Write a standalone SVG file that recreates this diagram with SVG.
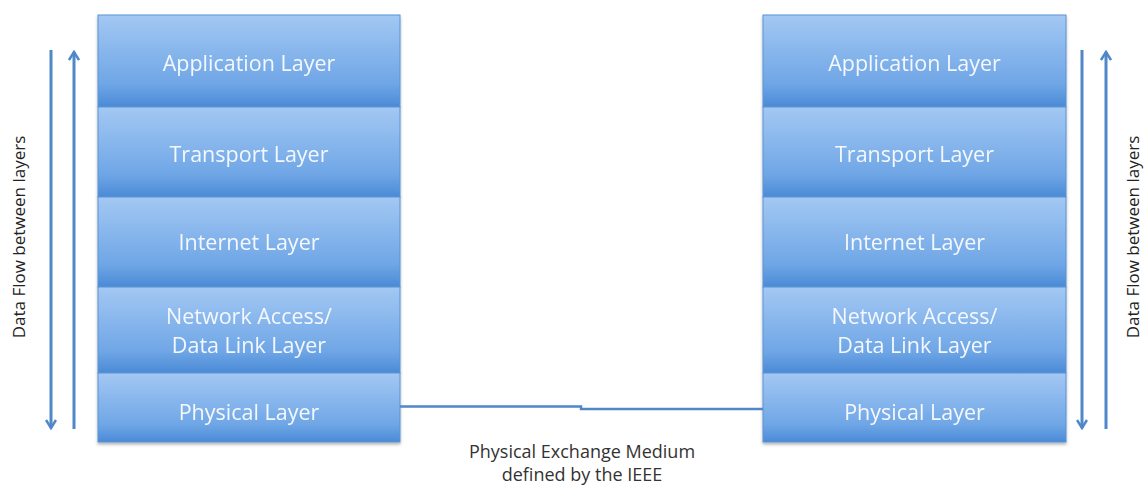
<svg xmlns="http://www.w3.org/2000/svg" width="1144" height="485" viewBox="0 0 1144 485">
<defs>
<linearGradient id="g" x1="0" y1="0" x2="0" y2="1">
<stop offset="0" stop-color="#a3c8f3"/>
<stop offset="0.75" stop-color="#6fa6e6"/>
<stop offset="1" stop-color="#4a8ad6"/>
</linearGradient>
<filter id="sh" x="-5%" y="-5%" width="110%" height="110%">
<feDropShadow dx="0" dy="2" stdDeviation="1.5" flood-color="#000" flood-opacity="0.3"/>
</filter>
<marker id="ah" viewBox="0 0 12 12" refX="10" refY="6" markerWidth="12" markerHeight="12" markerUnits="userSpaceOnUse" orient="auto">
<polyline points="2,1 10,6 2,11" fill="none" stroke="#4f87c8" stroke-width="2.5"/>
</marker>
</defs>
<style>
.layer{fill:url(#g);stroke:#5b93d3;stroke-width:1}
.lt{font-family:"Open Sans","Liberation Sans",sans-serif;font-size:21.5px;fill:#f4f8fd;text-anchor:middle}
.side{font-family:"Open Sans","Liberation Sans",sans-serif;font-size:17px;fill:#222;text-anchor:middle}
.cap{font-family:"Open Sans","Liberation Sans",sans-serif;font-size:18px;fill:#333;text-anchor:middle}
.arr{stroke:#4f87c8;stroke-width:3;fill:none}
.con{stroke:#4f87c8;stroke-width:2.5;fill:none}
</style>
<rect width="1144" height="485" fill="#fff"/>
<g id="left-stack" filter="url(#sh)">
<g id="l-app"><rect class="layer" x="98" y="15" width="302" height="92"/><text class="lt" x="249" y="71">Application Layer</text></g>
<g id="l-transport"><rect class="layer" x="98" y="107" width="302" height="90"/><text class="lt" x="249" y="162">Transport Layer</text></g>
<g id="l-internet"><rect class="layer" x="98" y="197" width="302" height="90"/><text class="lt" x="249" y="250">Internet Layer</text></g>
<g id="l-netaccess"><rect class="layer" x="98" y="287" width="302" height="86"/><text class="lt" x="249" y="324">Network Access/</text><text class="lt" x="249" y="353">Data Link Layer</text></g>
<g id="l-physical"><rect class="layer" x="98" y="373" width="302" height="69"/><text class="lt" x="249" y="420">Physical Layer</text></g>
</g>
<g id="right-stack" filter="url(#sh)">
<g id="r-app"><rect class="layer" x="763" y="15" width="303" height="92"/><text class="lt" x="914.5" y="71">Application Layer</text></g>
<g id="r-transport"><rect class="layer" x="763" y="107" width="303" height="90"/><text class="lt" x="914.5" y="162">Transport Layer</text></g>
<g id="r-internet"><rect class="layer" x="763" y="197" width="303" height="90"/><text class="lt" x="914.5" y="250">Internet Layer</text></g>
<g id="r-netaccess"><rect class="layer" x="763" y="287" width="303" height="86"/><text class="lt" x="914.5" y="324">Network Access/</text><text class="lt" x="914.5" y="353">Data Link Layer</text></g>
<g id="r-physical"><rect class="layer" x="763" y="373" width="303" height="69"/><text class="lt" x="914.5" y="420">Physical Layer</text></g>
</g>
<g id="connectors">
<line class="arr" x1="51" y1="50" x2="51" y2="428" marker-end="url(#ah)"/>
<line class="arr" x1="74" y1="429" x2="74" y2="52" marker-end="url(#ah)"/>
<line class="arr" x1="1082" y1="50" x2="1082" y2="428" marker-end="url(#ah)"/>
<line class="arr" x1="1106" y1="429" x2="1106" y2="52" marker-end="url(#ah)"/>
<polyline class="con" points="400,406.5 581,406.5 581,409 763,409"/>
</g>
<g id="labels">
<text class="side" transform="translate(25,237) rotate(-90)">Data Flow between layers</text>
<text class="side" transform="translate(1139,237) rotate(-90)">Data Flow between layers</text>
<text class="cap" x="582" y="458">Physical Exchange Medium</text>
<text class="cap" x="582" y="481">defined by the IEEE</text>
</g>
</svg>
